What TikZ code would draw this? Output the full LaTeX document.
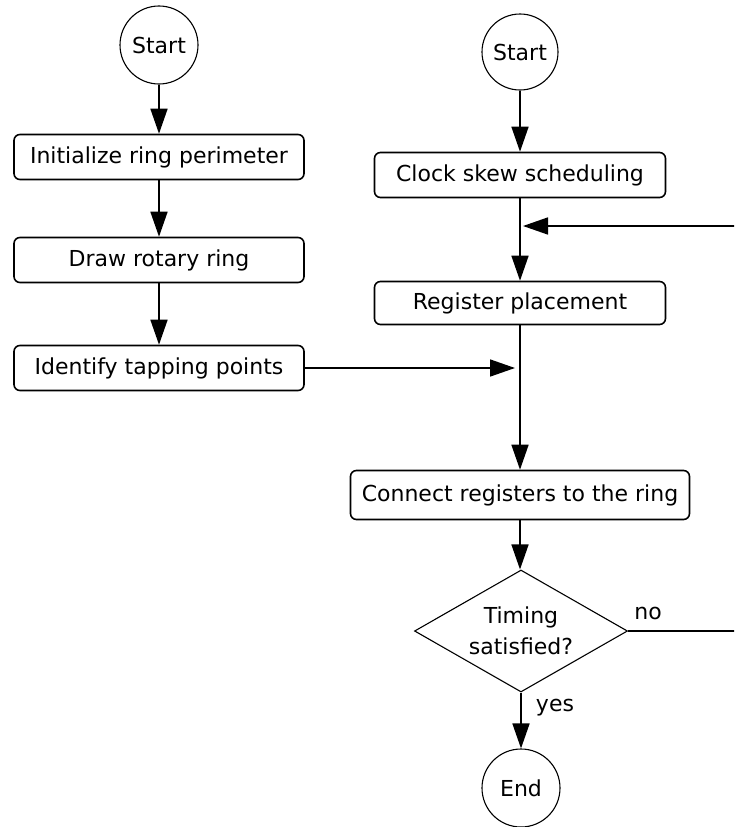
\documentclass[tikz,border=0pt]{standalone}
\usepackage{fontspec}
\setmainfont{DejaVu Sans}
\usetikzlibrary{shapes.geometric,arrows.meta}

\begin{document}
\begin{tikzpicture}[x=1pt,y=-1pt,
        font=\fontsize{22}{31}\selectfont,
        proc/.style={draw, line width=1.6pt, rounded corners=6pt, minimum height=45pt, inner sep=0pt},
        terminal/.style={draw, circle, line width=1.1pt, minimum size=78pt, inner sep=0pt},
        decision/.style={draw, diamond, line width=1.1pt, aspect=1.75, minimum width=213pt, minimum height=122pt, inner sep=0pt, align=center},
        flow/.style={line width=1.6pt, -{Triangle[length=25pt,width=17pt]}}]
        \useasboundingbox (0,0) rectangle (734,827);
        \clip (0,0) rectangle (734,827);

        % ring construction
        \node[terminal] (startA) at (159,45) {Start};
        \node[proc, minimum width=290pt] (initRing) at (159,157) {Initialize ring perimeter};
        \node[proc, minimum width=290pt] (drawRing) at (159,260) {Draw rotary ring};
        \node[proc, minimum width=290pt] (tapPoints) at (159,368) {Identify tapping points};

        \draw[flow] (startA) -- (initRing);
        \draw[flow] (initRing) -- (drawRing);
        \draw[flow] (drawRing) -- (tapPoints);

        % register flow
        \node[terminal, minimum size=76pt] (startB) at (520,52) {Start};
        \node[proc, minimum width=291pt] (skewSched) at (520,175) {Clock skew scheduling};
        \node[proc, minimum width=291pt, minimum height=43pt] (regPlace) at (520,303) {Register placement};
        \node[proc, minimum width=339pt, minimum height=49pt] (connRegs) at (520,495) {Connect registers to the ring};
        \node[decision] (timingOk) at (521,631) {Timing\\satisfied?};
        \node[terminal] (endB) at (521,788) {End};

        \draw[flow] (startB) -- (skewSched);
        \draw[flow] (skewSched) -- (regPlace);
        \draw[flow] (regPlace) -- (connRegs);
        \draw[flow] (connRegs) -- (timingOk.north -| connRegs.south);
        \draw[flow] (timingOk) -- (endB);
        \node (yesLbl) at (555,708) {yes};

        % tapping points join the main line
        \draw[flow, shorten >=5pt] (tapPoints.east) -- (tapPoints.east -| regPlace.south);

        % loop back when timing fails
        \coordinate (merge) at (520,226);
        \node (noLbl) at (648,613) {no};
        \draw[flow, shorten >=3pt] (timingOk.east) -- ++(120,0) |- (merge);
\end{tikzpicture}
\end{document}
